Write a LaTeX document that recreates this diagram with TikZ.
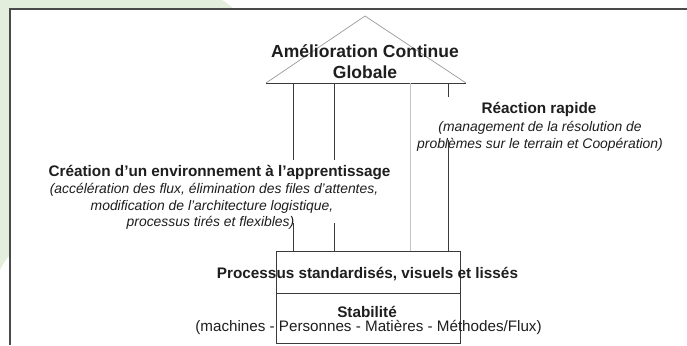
\documentclass[tikz,border=0pt]{standalone}
\usepackage{fontspec}
\setmainfont{Liberation Sans}
\definecolor{textc}{HTML}{1E1E1E}
\definecolor{linec}{HTML}{3A3A3A}
\definecolor{roofc}{HTML}{9A9A9A}
\definecolor{palec}{HTML}{C4C4C4}
\definecolor{bggreen}{HTML}{E4EEDC}
\definecolor{framec}{HTML}{4A4A4A}
\begin{document}
\begin{tikzpicture}[x=1pt,y=-1pt,
  txt/.style={text=textc, inner sep=0pt, anchor=base},
  ttl/.style={txt, font=\fontsize{17.5}{20}\selectfont\bfseries},
  hd/.style={txt, font=\fontsize{15.3}{18}\selectfont\bfseries},
  itxt/.style={txt, font=\fontsize{13.9}{17}\selectfont\itshape},
  rg/.style={txt, font=\fontsize{15.2}{18}\selectfont},
  pillar/.style={draw=linec, line width=0.9pt},
  palepillar/.style={draw=palec, line width=0.9pt},
  roofline/.style={draw=roofc, line width=0.7pt},
  boxline/.style={draw=linec, line width=0.9pt}]
\useasboundingbox (0,0) rectangle (687,345);
% background
\fill[bggreen] (0,0) -- (222,0) .. controls (228,3) and (233,8) .. (238,14) -- (14,250) .. controls (8,257) and (3,263) .. (0,270) -- cycle;
\fill[white] (10,9) rectangle (687,345);
\draw[framec, line width=1.4pt] (10,345) -- (10,9) -- (687,9);
% roof
\coordinate (apex) at (365,16);
\coordinate (roofL) at (266,83);
\coordinate (roofR) at (466,83);
\draw[roofline] (roofL) -- (apex) -- (roofR);
\draw[boxline] (roofL) -- (roofR);
% base box
\node[boxline, minimum width=184pt, minimum height=92pt, inner sep=0pt, anchor=north west] (basebox) at (276,251) {};
\coordinate (divL) at (276,293);
\coordinate (divR) at (460,293);
\draw[boxline] (divL) -- (divR);
% pillars
\coordinate (p1t) at (293,83);  \coordinate (p1a) at (293,160); \coordinate (p1b) at (293,223); \coordinate (p1e) at (293,251);
\coordinate (p2t) at (334,83);  \coordinate (p2a) at (334,160); \coordinate (p2b) at (334,223); \coordinate (p2e) at (334,251);
\coordinate (p3t) at (410,83);  \coordinate (p3e) at (410,251);
\coordinate (p4t) at (448,83);  \coordinate (p4a) at (448,97);  \coordinate (p4b) at (448,140); \coordinate (p4e) at (448,251);
\draw[pillar] (p1t) -- (p1a) (p1b) -- (p1e);
\draw[pillar] (p2t) -- (p2a) (p2b) -- (p2e);
\draw[palepillar] (p3t) -- (p3e);
\draw[pillar] (p4t) -- (p4a) (p4b) -- (p4e);
% texts
\node[ttl] (title1) at (365,57) {Amélioration Continue};
\node[ttl] (title2) at (365,78) {Globale};
\node[hd] (reac) at (539,113.5) {Réaction rapide};
\node[itxt] (reac1) at (540,131) {(management de la résolution de};
\node[itxt] (reac2) at (540,148) {problèmes sur le terrain et Coopération)};
\node[hd] (crea) at (219.5,176.5) {Création d’un environnement à l’apprentissage};
\node[itxt] (crea1) at (214,193) {(accélération des flux, élimination des files d’attentes,};
\node[itxt] (crea2) at (212,210) {modification de l’architecture logistique,};
\node[itxt] (crea3) at (210.5,226) {processus tirés et flexibles)};
\node[hd] (proc) at (367.5,278.5) {Processus standardisés, visuels et lissés};
\node[hd] (stab) at (367,317) {Stabilité};
\node[rg] (stab1) at (368.5,331.5) {(machines - Personnes - Matières - Méthodes/Flux)};
\end{tikzpicture}
\end{document}
